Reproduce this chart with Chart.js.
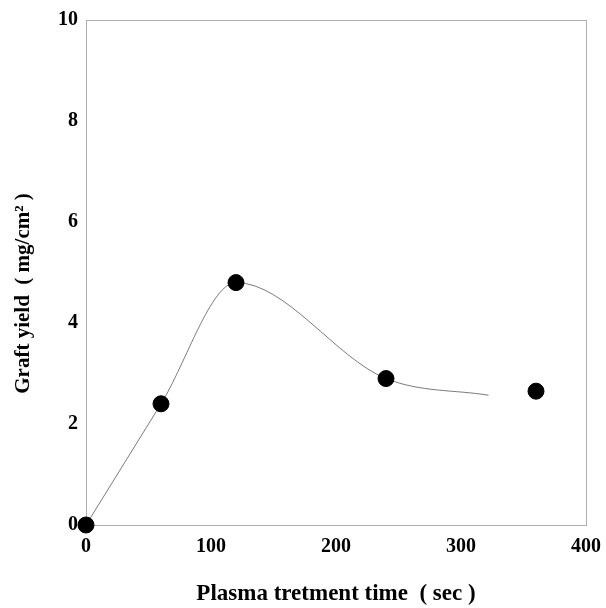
<!DOCTYPE html>
<html>
<head>
<meta charset="utf-8">
<script src="https://cdn.jsdelivr.net/npm/chart.js@4/dist/chart.umd.min.js"></script>
<style>
  html, body { margin: 0; padding: 0; background: #fff; }
  #wrap { width: 606px; height: 608px; }
</style>
</head>
<body>
<div id="wrap"><canvas id="myChart" width="606" height="608"></canvas></div>
<script>
// measured points
const times = [0, 60, 120, 240, 360];
const yields = [0, 2.4, 4.8, 2.9, 2.65];
// hand-drawn fit curve
const fitTimes = [0, 60, 120, 240, 322];
const fitYields = [0, 2.4, 4.8, 2.9, 2.57];
const xTicks = [0, 100, 200, 300, 400];
const yTicks = [0, 2, 4, 6, 8, 10];

const serif = "'Liberation Serif', 'DejaVu Serif', serif";
const nb = '\u00a0';

// thin frame around the plot area
const frame = {
	id: 'frame',
	beforeDatasetsDraw(chart) {
		const a = chart.chartArea;
		const c = chart.ctx;
		c.save();
		c.strokeStyle = 'rgba(120,120,120,0.6)';
		c.lineWidth = 1;
		c.strokeRect(a.left + 0.5, a.top + 0.5, a.right - a.left, a.bottom - a.top);
		c.restore();
	}
};

const ctx = document.getElementById('myChart').getContext('2d');
const myChart = new Chart(ctx, {
	type: 'scatter',
	data: {
		datasets: [{
			label: 'fit',
			data: fitTimes.map((t, i) => ({x: t, y: fitYields[i]})),
			showLine: true,
			borderColor: 'rgba(90,90,90,0.8)',
			borderWidth: 1,
			pointRadius: 0,
			cubicInterpolationMode: 'monotone',
			order: 2
		}, {
			label: 'Graft yield',
			data: times.map((t, i) => ({x: t, y: yields[i]})),
			backgroundColor: '#000',
			borderColor: '#000',
			pointRadius: 8,
			pointHoverRadius: 8,
			order: 1
		}]
	},
	options: {
		responsive: false,
		animation: false,
		clip: false,
		layout: { padding: { top: 20, right: 0, left: 0, bottom: 0 } },
		plugins: {
			legend: { display: false },
			tooltip: { enabled: false }
		},
		scales: {
			x: {
				type: 'linear',
				min: 0, max: 400,
				afterBuildTicks: s => { s.ticks = xTicks.map(v => ({value: v})); },
				afterFit: s => { s.height = 83; s.paddingRight = 20; s.paddingLeft = 0; },
				grid: { display: false, drawTicks: false, tickLength: 0 },
				border: { display: false },
				ticks: {
					color: '#000',
					padding: 10,
					maxRotation: 0,
					font: { family: serif, size: 20, weight: 'bold' }
				},
				title: {
					display: true,
					text: 'Plasma tretment time  ( sec )',
					color: '#000',
					padding: { top: 10, bottom: 0 },
					font: { family: serif, size: 23, weight: 'bold' }
				}
			},
			y: {
				min: 0, max: 10,
				afterBuildTicks: s => { s.ticks = yTicks.map(v => ({value: v})); },
				afterFit: s => { s.width = 86; s.paddingTop = 0; },
				grid: { display: false, drawTicks: false, tickLength: 0 },
				border: { display: false },
				ticks: {
					color: '#000',
					padding: 8,
					font: { family: serif, size: 20, weight: 'bold' }
				},
				title: {
					display: true,
					text: 'Graft yield  ( mg/cm\u00b2 )' + nb.repeat(8),
					color: '#000',
					padding: { top: 11, bottom: 0 },
					font: { family: serif, size: 21, weight: 'bold' }
				}
			}
		}
	},
	plugins: [frame]
});
</script>
</body>
</html>
